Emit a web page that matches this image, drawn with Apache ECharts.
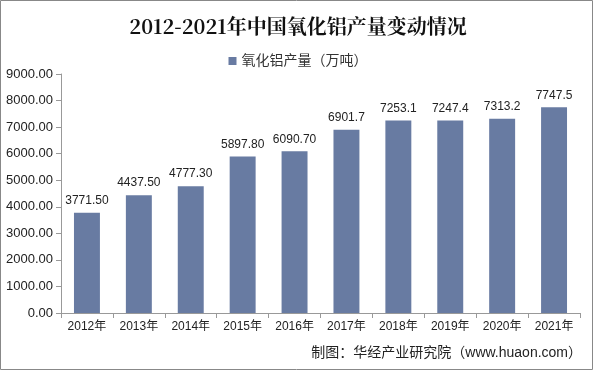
<!DOCTYPE html>
<html><head><meta charset="utf-8">
<script src="https://cdn.jsdelivr.net/npm/echarts@6/dist/echarts.min.js"></script>
<style>html,body{margin:0;padding:0;background:#fff}#c{width:596px;height:374px}</style>
</head><body><div id="c"></div>
<script>
var categories = ['2012年','2013年','2014年','2015年','2016年','2017年','2018年','2019年','2020年','2021年'];
var values = [3771.50,4437.50,4777.30,5897.80,6090.70,6901.7,7253.1,7247.4,7313.2,7747.5];
var valueLabels = ['3771.50','4437.50','4777.30','5897.80','6090.70','6901.7','7253.1','7247.4','7313.2','7747.5'];
var yTicks = [0,1000,2000,3000,4000,5000,6000,7000,8000,9000];
var seriesName = '氧化铝产量（万吨）';

var chart = echarts.init(document.getElementById('c'));
var font = '"Liberation Sans", Arial, "Noto Sans CJK SC", sans-serif';
chart.setOption({
  animation:false,
  textStyle:{fontFamily:font},
  title:{text:'2012-2021年中国氧化铝产量变动情况',left:'center',top:11,
    textStyle:{fontFamily:'"Noto Serif CJK SC","DejaVu Serif","Liberation Serif",serif',fontSize:20,fontWeight:'bold',color:'#111'}},
  legend:{top:49,left:'center',itemWidth:8,itemHeight:8,itemGap:4,icon:'rect',
    textStyle:{fontSize:14,color:'#333',fontFamily:font}},
  graphic:[
    {type:'rect',shape:{x:0.5,y:0.5,width:592,height:369},style:{fill:'none',stroke:'#888',lineWidth:1}},
    {type:'text',right:14,top:346,style:{text:'制图：华经产业研究院（www.huaon.com）',font:'14px '+font,fill:'#222'}}
  ],
  grid:{left:61,right:16,top:74,bottom:61},
  xAxis:{type:'category',data:categories,
    axisLine:{lineStyle:{color:'#999'}},
    axisTick:{show:true,alignWithLabel:false,length:5,lineStyle:{color:'#999'}},
    axisLabel:{color:'#222',fontSize:12,margin:8,interval:0}},
  yAxis:{type:'value',min:yTicks[0],max:yTicks[yTicks.length-1],interval:1000,
    axisLine:{show:true,lineStyle:{color:'#999'}},
    axisTick:{show:true,inside:false,length:5,lineStyle:{color:'#999'}},
    splitLine:{show:false},
    axisLabel:{color:'#222',fontSize:13,margin:8,formatter:function(v){return v.toFixed(2);}}},
  series:[{name:seriesName,type:'bar',data:values,barWidth:'50%',
    itemStyle:{color:'#687ba2'},
    label:{show:true,position:'top',distance:6,color:'#222',fontSize:12,
      formatter:function(p){return valueLabels[p.dataIndex];}}}]
});
</script></body></html>
